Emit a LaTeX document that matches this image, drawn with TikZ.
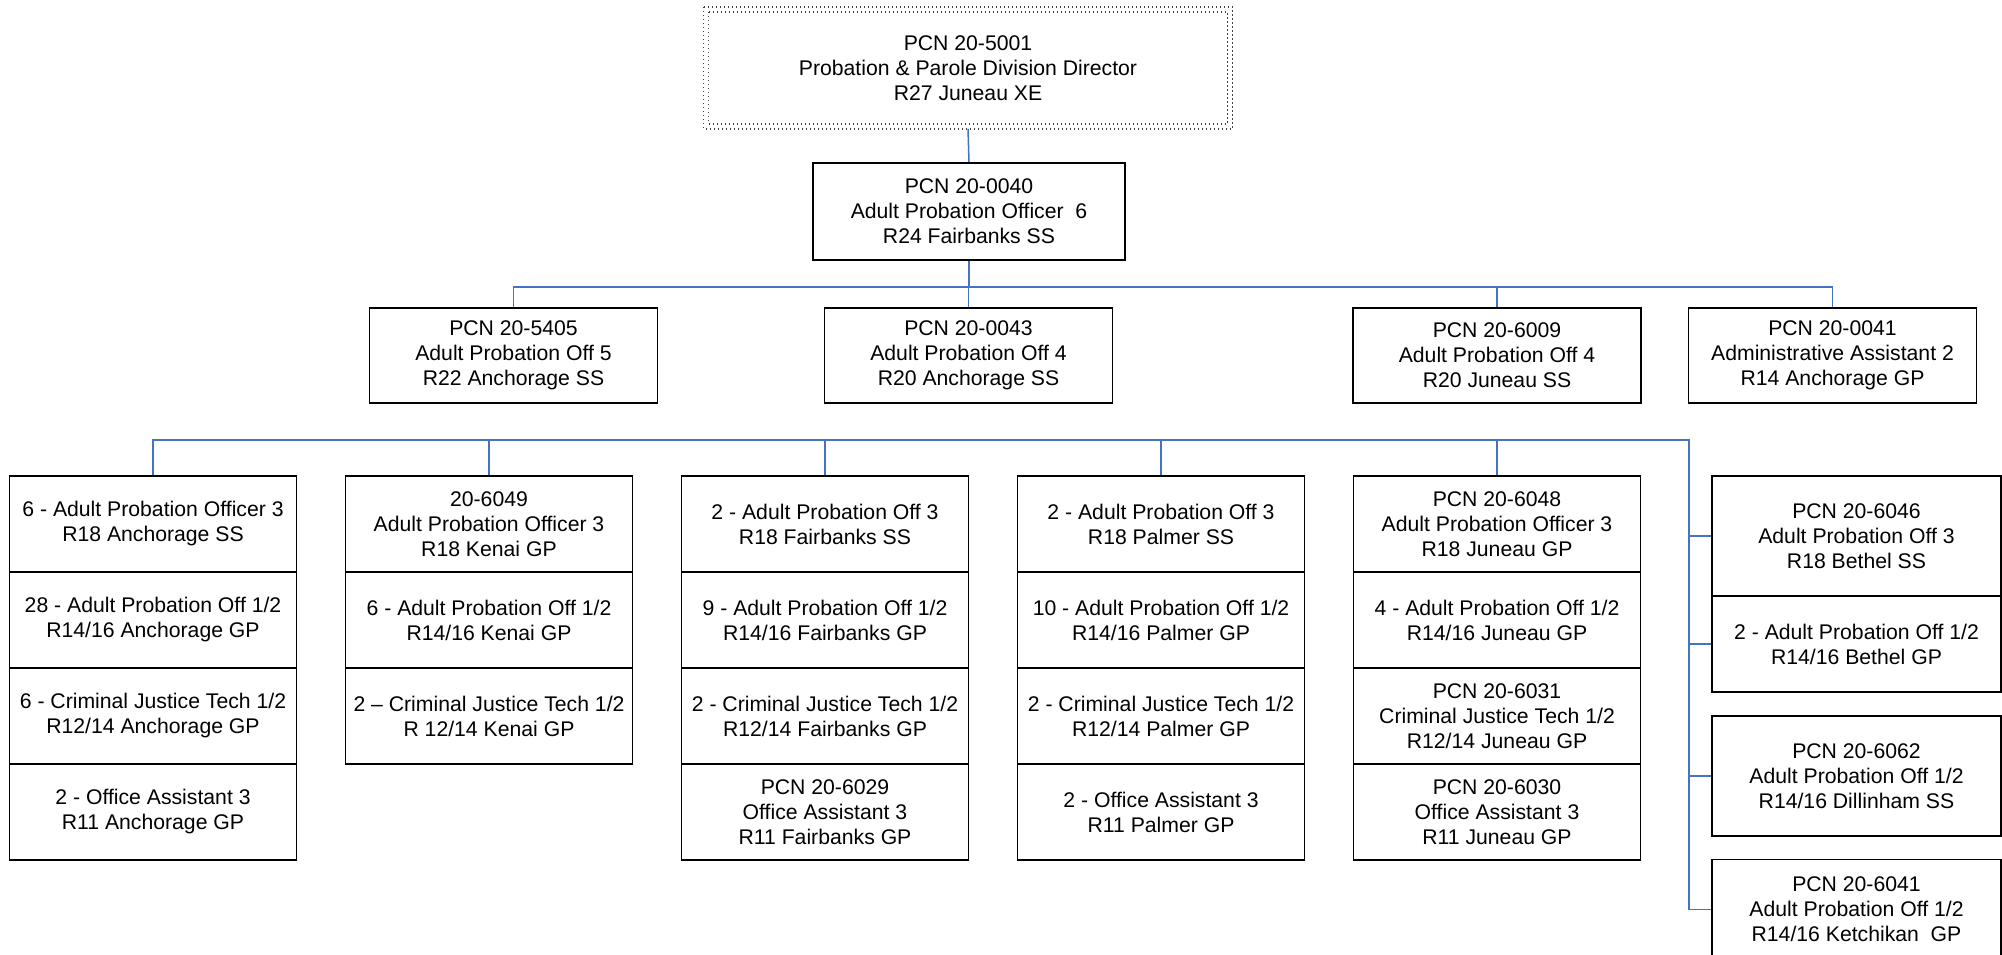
\documentclass[tikz,border=0pt]{standalone}
\usepackage{fontspec}
\setmainfont{Liberation Sans}
\definecolor{linkblue}{HTML}{4472C4}
\newcommand\pcfont{\fontsize{10.6}{12.5}\selectfont}
\begin{document}
\begin{tikzpicture}[x=0.5pt,y=-0.5pt,
  box/.style={draw=black, line width=0.9pt, align=center, font=\pcfont, inner sep=0pt,
              minimum width=143.5pt, minimum height=48pt},
  rbox/.style={box, minimum width=144.5pt},
  lvl/.style={box, minimum width=144pt, minimum height=47.5pt},
  topline/.style={draw=black!75, line width=0.65pt, dash pattern=on 0.65pt off 1.35pt},
  conn/.style={draw=linkblue, line width=0.75pt}]
\useasboundingbox[fill=white] (0,0) rectangle (2002,954);

% top
\node[box, draw=none, minimum width=263.5pt, minimum height=60pt] (top) at (968,68)
  {PCN 20-5001\\Probation \& Parole Division Director\\R27 Juneau XE};
\draw[topline] (top.north west) rectangle (top.south east);
\draw[topline] ([shift={(5,5)}]top.north west) rectangle ([shift={(-5,-5)}]top.south east);

\node[box, minimum width=156pt, minimum height=48.5pt] (d0040) at (969,211.5)
  {PCN 20-0040\\Adult Probation Officer\ \ 6\\R24 Fairbanks SS};

% level 3
\node[lvl] (l5405) at (513.5,355.5) {PCN 20-5405\\Adult Probation Off 5\\R22 Anchorage SS};
\node[lvl] (l0043) at (968.5,355.5) {PCN 20-0043\\Adult Probation Off 4\\R20 Anchorage SS};
\node[lvl] (l6009) at (1497,355.5) {PCN 20-6009\\Adult Probation Off 4\\R20 Juneau SS};
\node[lvl] (l0041) at (1832.5,355.5) {PCN 20-0041\\Administrative Assistant 2\\R14 Anchorage GP};

% column 1
\node[box] (a1) at (153,524) {6 - Adult Probation Officer 3\\R18 Anchorage SS};
\node[box] (a2) at (153,620) {28 - Adult Probation Off 1/2\\R14/16 Anchorage GP};
\node[box] (a3) at (153,716) {6 - Criminal Justice Tech 1/2\\R12/14 Anchorage GP};
\node[box] (a4) at (153,812) {2 - Office Assistant 3\\R11 Anchorage GP};

% column 2
\node[box] (b1) at (489,524) {20-6049\\Adult Probation Officer 3\\R18 Kenai GP};
\node[box] (b2) at (489,620) {6 - Adult Probation Off 1/2\\R14/16 Kenai GP};
\node[box] (b3) at (489,716) {2 -- Criminal Justice Tech 1/2\\R 12/14 Kenai GP};

% column 3
\node[box] (c1) at (825,524) {2 - Adult Probation Off 3\\R18 Fairbanks SS};
\node[box] (c2) at (825,620) {9 - Adult Probation Off 1/2\\R14/16 Fairbanks GP};
\node[box] (c3) at (825,716) {2 - Criminal Justice Tech 1/2\\R12/14 Fairbanks GP};
\node[box] (c4) at (825,812) {PCN 20-6029\\Office Assistant 3\\R11 Fairbanks GP};

% column 4
\node[box] (d1) at (1161,524) {2 - Adult Probation Off 3\\R18 Palmer SS};
\node[box] (d2) at (1161,620) {10 - Adult Probation Off 1/2\\R14/16 Palmer GP};
\node[box] (d3) at (1161,716) {2 - Criminal Justice Tech 1/2\\R12/14 Palmer GP};
\node[box] (d4) at (1161,812) {2 - Office Assistant 3\\R11 Palmer GP};

% column 5
\node[box] (e1) at (1497,524) {PCN 20-6048\\Adult Probation Officer 3\\R18 Juneau GP};
\node[box] (e2) at (1497,620) {4 - Adult Probation Off 1/2\\R14/16 Juneau GP};
\node[box] (e3) at (1497,716) {PCN 20-6031\\Criminal Justice Tech 1/2\\R12/14 Juneau GP};
\node[box] (e4) at (1497,812) {PCN 20-6030\\Office Assistant 3\\R11 Juneau GP};

% right column
\node[rbox, minimum height=60pt] (r1) at (1856.5,536) {PCN 20-6046\\Adult Probation Off 3\\R18 Bethel SS};
\node[rbox] (r2) at (1856.5,644) {2 - Adult Probation Off 1/2\\R14/16 Bethel GP};
\node[rbox, minimum height=60pt] (r3) at (1856.5,776) {PCN 20-6062\\Adult Probation Off 1/2\\R14/16 Dillinham SS};
\node[rbox, minimum height=50pt] (r4) at (1856.5,909.5) {PCN 20-6041\\Adult Probation Off 1/2\\R14/16 Ketchikan\ \ GP};

% connectors
\coordinate (busA) at (0,287);
\coordinate (busB) at (0,440);
\coordinate (spine) at (1689,440);
\draw[conn] (top.south) -- (d0040.north);
\draw[conn] (d0040.south) -- (d0040.south |- busA);
\draw[conn] (l5405.north) |- (l0041.north |- busA) -- (l0041.north);
\draw[conn] (l0043.north) -- (l0043.north |- busA);
\draw[conn] (l6009.north) -- (l6009.north |- busA);

\draw[conn] (a1.north) |- (spine) -- (spine |- r4.west) -- (r4.west);
\draw[conn] (b1.north) -- (b1.north |- busB);
\draw[conn] (c1.north) -- (c1.north |- busB);
\draw[conn] (d1.north) -- (d1.north |- busB);
\draw[conn] (e1.north) -- (e1.north |- busB);
\draw[conn] (spine |- r1.west) -- (r1.west);
\draw[conn] (spine |- r2.west) -- (r2.west);
\draw[conn] (spine |- r3.west) -- (r3.west);
\end{tikzpicture}
\end{document}
